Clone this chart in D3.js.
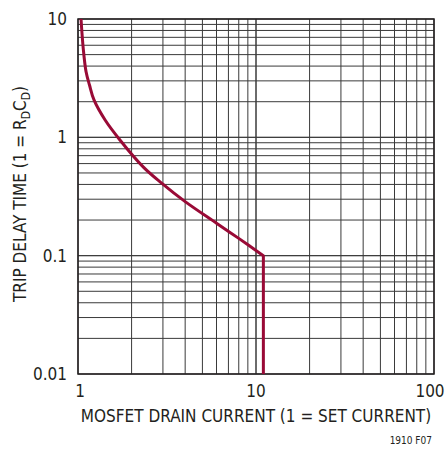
<!DOCTYPE html>
<html>
<head>
<meta charset="utf-8">
<script src="https://cdn.jsdelivr.net/npm/d3@7"></script>
<style>
  body { margin: 0; background: #fff; }
  text { font-family: "Liberation Sans Narrow", "DejaVu Sans Condensed", "Liberation Sans", sans-serif; fill: #231f20; }
</style>
</head>
<body>
<svg id="chart" width="448" height="453"></svg>
<script>
// trip delay vs drain current
var current = [1.04, 1.07, 1.11, 1.16, 1.23, 1.42, 1.72, 2.33, 2.95, 4, 6, 8, 11];
var delay   = [10, 5.65, 3.58, 2.77, 2.07, 1.4, 0.95, 0.56, 0.41, 0.286, 0.188, 0.14, 0.1];
var cutoffCurrent = 11;
var xTicks = [1, 10, 100];
var yTicks = [0.01, 0.1, 1, 10];

var svg = d3.select("#chart");
var pLeft = 78, pRight = 434, pTop = 19, pBottom = 374;

var x = d3.scaleLog().domain([1, 100]).range([pLeft, pRight]);
var y = d3.scaleLog().domain([0.01, 10]).range([pBottom, pTop]);

var g = svg.append("g");

// grid: every integer step inside each decade
function decadeLines(lo, hi){
  var out = [];
  for(var d = lo; d < hi * 0.999; d *= 10){
    for(var k = 1; k <= 10; k++) out.push(d * k);
  }
  return out;
}
var xs = decadeLines(1, 100), ys = decadeLines(0.01, 10);

g.selectAll(".vgrid").data(xs).enter().append("line")
  .attr("class", "vgrid")
  .attr("x1", function(d){ return x(d); })
  .attr("x2", function(d){ return x(d); })
  .attr("y1", pTop).attr("y2", pBottom)
  .attr("stroke", "#3a3a3a").attr("stroke-width", 1);

g.selectAll(".hgrid").data(ys).enter().append("line")
  .attr("class", "hgrid")
  .attr("y1", function(d){ return y(d); })
  .attr("y2", function(d){ return y(d); })
  .attr("x1", pLeft).attr("x2", pRight)
  .attr("stroke", "#3a3a3a").attr("stroke-width", 1);

g.append("rect")
  .attr("x", pLeft).attr("y", pTop)
  .attr("width", pRight - pLeft).attr("height", pBottom - pTop)
  .attr("fill", "none").attr("stroke", "#231f20").attr("stroke-width", 1.5);

// curve, then the vertical drop at the current limit
var pts = current.map(function(c, i){ return [x(c), y(delay[i])]; });
var line = d3.line().curve(d3.curveCatmullRom.alpha(0.5));
g.append("path")
  .attr("d", line(pts) + "L" + x(cutoffCurrent) + "," + y(0.01))
  .attr("fill", "none")
  .attr("stroke", "#990a36")
  .attr("stroke-width", 3)
  .attr("stroke-linejoin", "miter");

// tick labels
svg.selectAll(".ylab").data(yTicks).enter().append("text")
  .attr("class", "ylab")
  .attr("x", 67).attr("y", function(d){ return y(d); })
  .attr("dy", "0.35em")
  .attr("text-anchor", "end")
  .attr("font-size", 17)
  .text(function(d){ return d; });

svg.selectAll(".xlab").data(xTicks).enter().append("text")
  .attr("class", "xlab")
  .attr("x", function(d, i){ return i == 0 ? x(d) + 2 : (i == 2 ? x(d) - 4 : x(d)); })
  .attr("y", 397)
  .attr("text-anchor", "middle")
  .attr("font-size", 17)
  .text(function(d){ return d; });

svg.append("text")
  .attr("x", 256).attr("y", 422)
  .attr("text-anchor", "middle")
  .attr("font-size", 17)
  .text("MOSFET DRAIN CURRENT (1 = SET CURRENT)");

var yt = svg.append("text")
  .attr("transform", "translate(26,194) rotate(-90)")
  .attr("text-anchor", "middle")
  .attr("font-size", 17);
yt.append("tspan").text("TRIP DELAY TIME (1 = R");
yt.append("tspan").attr("font-size", 12).attr("dy", 4).text("D");
yt.append("tspan").attr("dy", -4).text("C");
yt.append("tspan").attr("font-size", 12).attr("dy", 4).text("D");
yt.append("tspan").attr("dy", -4).text(")");

svg.append("text")
  .attr("x", 432).attr("y", 444)
  .attr("text-anchor", "end")
  .attr("font-size", 10)
  .text("1910 F07");
</script>
</body>
</html>
